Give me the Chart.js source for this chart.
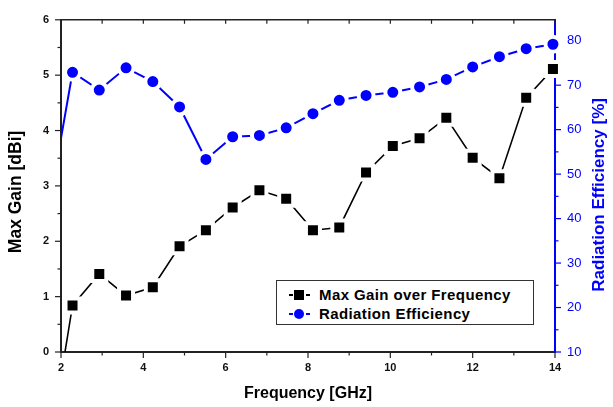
<!DOCTYPE html>
<html>
<head>
<meta charset="utf-8">
<script src="https://cdn.jsdelivr.net/npm/chart.js@4.4.1/dist/chart.umd.min.js"></script>
<style>
  body { margin: 0; background: #fff; }
  #wrap { position: relative; width: 613px; height: 407px; }
  #legend {
    position: absolute; left: 276px; top: 280px; width: 258px; height: 45px;
    box-sizing: border-box; border: 1.5px solid #333; background: #fff;
    font: bold 15px Arial, "Liberation Sans", sans-serif; color: #000;
    letter-spacing: 0.4px;
  }
  .row { position: absolute; left: 0; height: 16px; width: 100%; }
  .row span { position: absolute; }
  .dash { height: 2px; width: 4px; top: 7px; }
  .txt { left: 42px; top: 0; line-height: 16px; white-space: nowrap; }
</style>
</head>
<body>
<div id="wrap">
  <canvas id="chart"></canvas>
  <div id="legend">
    <div class="row" style="top:6px">
      <span class="dash" style="left:12px;background:#000"></span>
      <span style="left:17px;top:3px;width:10px;height:10px;background:#000"></span>
      <span class="dash" style="left:29px;background:#000"></span>
      <span class="txt">Max Gain over Frequency</span>
    </div>
    <div class="row" style="top:24.5px">
      <span class="dash" style="left:12px;background:#0000ff"></span>
      <span style="left:17px;top:3px;width:10px;height:10px;border-radius:50%;background:#0000ff"></span>
      <span class="dash" style="left:29px;background:#0000ff"></span>
      <span class="txt">Radiation Efficiency</span>
    </div>
  </div>
</div>
<script>
// values
const freq = [1.64, 2.28, 2.93, 3.58, 4.23, 4.88, 5.52, 6.17, 6.82, 7.47, 8.12, 8.76, 9.41, 10.06, 10.71, 11.36, 12.00, 12.65, 13.30, 13.95];
const maxGain = [-2.1, 0.84, 1.41, 1.02, 1.17, 1.91, 2.20, 2.61, 2.92, 2.77, 2.20, 2.25, 3.24, 3.72, 3.86, 4.23, 3.51, 3.14, 4.59, 5.11];
const radEff = [39, 72.9, 68.9, 73.9, 70.8, 65.1, 53.3, 58.4, 58.7, 60.4, 63.6, 66.6, 67.7, 68.4, 69.6, 71.3, 74.1, 76.4, 78.2, 79.2];

const freqTicks = [2, 4, 6, 8, 10, 12, 14];
const gainTicks = [0, 1, 2, 3, 4, 5, 6];
const effTicks = [10, 20, 30, 40, 50, 60, 70, 80];

const BLUE = '#0000ff';
const FONT = 'Arial, "Liberation Sans", sans-serif';
const leftTitle = 'Max Gain [dBi]';
const rightTitle = 'Radiation Efficiency [%]';

// minor ticks sit halfway between the major ones
function minors(ticks) {
    const out = [];
    for (let i = 0; i < ticks.length - 1; i++) out.push((ticks[i] + ticks[i + 1]) / 2);
    return out;
}

// Origin-like frame: tick marks, top border and rotated axis titles
const frame = {
    id: 'frame',
    beforeDatasetsDraw(chart) {
        const { ctx, chartArea: a, scales: { x, y, y1 } } = chart;
        ctx.save();
        ctx.lineCap = 'butt';

        // top border with inward ticks
        ctx.strokeStyle = '#222';
        ctx.lineWidth = 1.5;
        ctx.beginPath();
        ctx.moveTo(a.left, a.top);
        ctx.lineTo(a.right, a.top);
        ctx.stroke();
        ctx.lineWidth = 1.2;
        freqTicks.concat(minors(freqTicks)).forEach(v => {
            const px = x.getPixelForValue(v);
            ctx.beginPath();
            ctx.moveTo(px, a.top);
            ctx.lineTo(px, a.top + 4);
            ctx.stroke();
        });

        // bottom ticks
        freqTicks.forEach(v => {
            const px = x.getPixelForValue(v);
            ctx.beginPath(); ctx.moveTo(px, a.bottom); ctx.lineTo(px, a.bottom + 6); ctx.stroke();
        });
        minors(freqTicks).forEach(v => {
            const px = x.getPixelForValue(v);
            ctx.beginPath(); ctx.moveTo(px, a.bottom); ctx.lineTo(px, a.bottom + 3.5); ctx.stroke();
        });

        // left ticks
        gainTicks.forEach(v => {
            const py = y.getPixelForValue(v);
            ctx.beginPath(); ctx.moveTo(a.left, py); ctx.lineTo(a.left - 6, py); ctx.stroke();
        });
        minors(gainTicks).forEach(v => {
            const py = y.getPixelForValue(v);
            ctx.beginPath(); ctx.moveTo(a.left, py); ctx.lineTo(a.left - 3.5, py); ctx.stroke();
        });

        // right ticks
        ctx.strokeStyle = BLUE;
        effTicks.forEach(v => {
            const py = y1.getPixelForValue(v);
            ctx.beginPath(); ctx.moveTo(a.right, py); ctx.lineTo(a.right + 6, py); ctx.stroke();
        });
        minors(effTicks).forEach(v => {
            const py = y1.getPixelForValue(v);
            ctx.beginPath(); ctx.moveTo(a.right, py); ctx.lineTo(a.right + 3.5, py); ctx.stroke();
        });

        // vertical titles, both reading bottom to top
        const cy = (a.top + a.bottom) / 2 + 6;
        ctx.font = 'bold 17.5px ' + FONT;
        ctx.textAlign = 'center';
        ctx.textBaseline = 'middle';
        ctx.fillStyle = '#000';
        ctx.translate(16.5, cy);
        ctx.rotate(-Math.PI / 2);
        ctx.fillText(leftTitle, 0, 0);
        ctx.setTransform(1, 0, 0, 1, 0, 0);
        ctx.fillStyle = BLUE;
        ctx.font = 'bold 17px ' + FONT;
        ctx.translate(chart.width - 13.5, cy + 3);
        ctx.rotate(-Math.PI / 2);
        ctx.fillText(rightTitle, 0, 0);
        ctx.restore();
    }
};

const gainPts = freq.map((f, i) => ({ x: f, y: maxGain[i] }));
const effPts = freq.map((f, i) => ({ x: f, y: radEff[i] }));
const clipBox = { left: 0, top: 12, right: 12, bottom: 0 };

new Chart(document.getElementById('chart'), {
    type: 'line',
    data: {
        datasets: [{
            label: 'Max Gain over Frequency',
            data: gainPts,
            yAxisID: 'y',
            borderColor: '#000',
            borderWidth: 1.6,
            pointStyle: 'rect',
            pointRadius: 9.9,
            pointBackgroundColor: '#000',
            pointBorderColor: '#fff',
            pointBorderWidth: 4,
            clip: clipBox
        }, {
            label: 'Radiation Efficiency',
            data: effPts,
            yAxisID: 'y1',
            borderColor: BLUE,
            borderWidth: 2,
            pointStyle: 'circle',
            pointRadius: 7.5,
            pointBackgroundColor: BLUE,
            pointBorderColor: '#fff',
            pointBorderWidth: 4,
            clip: clipBox
        }]
    },
    options: {
        responsive: true,
        maintainAspectRatio: false,
        animation: false,
        events: [],
        layout: { padding: { top: 12, left: 0, right: 0, bottom: 0 } },
        plugins: { legend: { display: false }, tooltip: { enabled: false } },
        scales: {
            x: {
                type: 'linear',
                position: 'bottom',
                min: 2, max: 14,
                afterFit: s => { s.height = 55; },
                afterBuildTicks: s => { s.ticks = freqTicks.map(v => ({ value: v })); },
                grid: { display: false, drawTicks: false },
                border: { color: '#222', width: 2 },
                ticks: { color: '#111', font: { family: FONT, size: 11, weight: 'bold' }, padding: 9, maxRotation: 0, autoSkip: false },
                title: { display: true, text: 'Frequency [GHz]', color: '#000', font: { family: FONT, size: 16, weight: 'bold' }, padding: { top: 0, bottom: 4 } }
            },
            y: {
                type: 'linear',
                position: 'left',
                min: 0, max: 6,
                afterFit: s => { s.width = 61; },
                afterBuildTicks: s => { s.ticks = gainTicks.map(v => ({ value: v })); },
                grid: { display: false, drawTicks: false },
                border: { color: '#222', width: 2 },
                ticks: { color: '#111', font: { family: FONT, size: 11, weight: 'bold' }, padding: 12 }
            },
            y1: {
                type: 'linear',
                position: 'right',
                min: 10, max: 84.7,
                afterFit: s => { s.width = 58; },
                afterBuildTicks: s => { s.ticks = effTicks.map(v => ({ value: v })); },
                grid: { display: false, drawTicks: false },
                border: { color: BLUE, width: 2 },
                ticks: { color: BLUE, font: { family: FONT, size: 13 }, padding: 12 }
            }
        }
    },
    plugins: [frame]
});
</script>
</body>
</html>
